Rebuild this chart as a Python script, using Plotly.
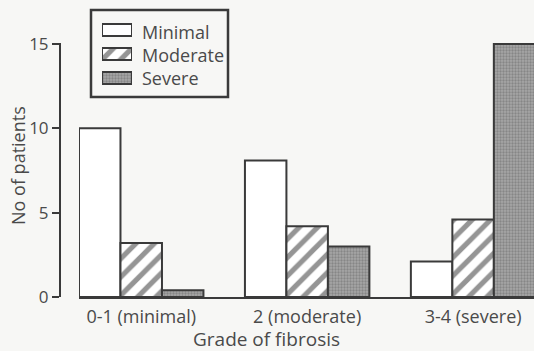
import plotly.graph_objects as go

# Patients by grade of fibrosis, split by severity group
grades = ["0-1 (minimal)", "2 (moderate)", "3-4 (severe)"]
groups = ["Minimal", "Moderate", "Severe"]
minimal = [10.0, 8.1, 2.1]
moderate = [3.2, 4.2, 4.6]
severe = [0.4, 3.0, 15.0]
y_ticks = [0, 5, 10, 15]

ink = "#3a3a3a"
text_col = "#4a4a4a"
bg = "#f7f7f5"
family = "Open Sans, DejaVu Sans, sans-serif"

# Page geometry (pixels) used to convert to paper coordinates
W, H = 534, 351
ML, MB = 60, 54
PW, PH = W - ML, H - MB


def px(xp):
    return (xp - ML) / PW


def py(yp):
    return (PH - yp) / PH


styles = [
    dict(color="white", line=dict(color=ink, width=2)),
    dict(color="white", line=dict(color=ink, width=2),
         pattern=dict(shape="/", fgcolor="#2c2c2c", bgcolor="white",
                      size=13, solidity=0.4)),
    dict(color="#858585", line=dict(color=ink, width=2),
         pattern=dict(shape=".", fgcolor="#666666", bgcolor="#a6a6a6",
                      size=3, solidity=0.45)),
]

fig = go.Figure()
for name, vals, st in zip(groups, [minimal, moderate, severe], styles):
    fig.add_trace(go.Bar(name=name, x=grades, y=vals, marker=st,
                         showlegend=False))

# Key: one short horizontal swatch per group on a small inset axis
key_len = [1, 1, 1]
for i, (name, st) in enumerate(zip(groups, styles)):
    fig.add_trace(go.Bar(
        x=[key_len[i]], y=[i], orientation="h", width=0.5,
        marker=st, xaxis="x2", yaxis="y2", showlegend=False,
        cliponaxis=False, hoverinfo="skip",
    ))

tick_font = dict(family=family, size=18, color=text_col)

fig.update_layout(
    width=W, height=H,
    margin=dict(l=ML, r=0, t=0, b=MB, autoexpand=False),
    paper_bgcolor=bg, plot_bgcolor=bg,
    barmode="group", bargap=0.25, bargroupgap=0,
    font=dict(family=family, size=18, color=text_col),
    showlegend=False,
    xaxis=dict(
        domain=[px(79), 1], range=[-0.375, 2.367], automargin=False,
        showline=True, linecolor=ink, linewidth=2,
        ticks="", showgrid=False, zeroline=False,
        tickfont=tick_font, ticklabelstandoff=2,
    ),
    yaxis=dict(
        domain=[0, py(43)], automargin=False,
        anchor="free", position=0,
        range=[0, 15.06], tickvals=y_ticks,
        showline=True, linecolor=ink, linewidth=2,
        ticks="outside", ticklen=7, tickwidth=2, tickcolor=ink,
        showgrid=False, zeroline=False,
        tickfont=dict(family=family, size=17, color=text_col),
    ),
    xaxis2=dict(domain=[px(102), px(132)], range=[0, 1], anchor="y2",
                visible=False, fixedrange=True, automargin=False),
    yaxis2=dict(domain=[py(85), py(23)], range=[2.2917, -0.2917],
                anchor="x2", visible=False, fixedrange=True, automargin=False),
    shapes=[
        dict(type="rect", xref="paper", yref="paper",
             x0=px(91), x1=px(228), y0=py(97), y1=py(10),
             line=dict(color=ink, width=2.5), layer="below"),
    ],
    annotations=[
        dict(text="Grade of fibrosis", xref="paper", yref="paper",
             x=px(266), y=py(339), xanchor="center", yanchor="middle",
             showarrow=False, font=dict(family=family, size=19, color=text_col)),
        dict(text="No of patients", xref="paper", yref="paper",
             x=px(18), y=py(166), textangle=-90,
             xanchor="center", yanchor="middle",
             showarrow=False, font=dict(family=family, size=18, color=text_col)),
    ] + [
        dict(text=name, xref="paper", yref="paper",
             x=px(140), y=py(yc), xanchor="left", yanchor="middle",
             showarrow=False, font=dict(family=family, size=18, color=text_col))
        for name, yc in zip(groups, [32, 55, 78])
    ],
)

fig.write_html("out.html")
